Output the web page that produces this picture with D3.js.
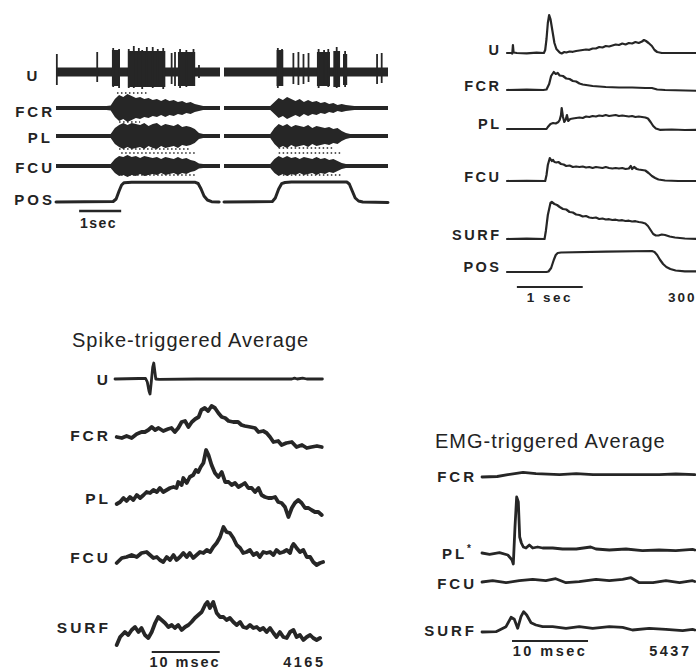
<!DOCTYPE html>
<html>
<head>
<meta charset="utf-8">
<script src="https://cdn.jsdelivr.net/npm/d3@7"></script>
<style>
  body { margin: 0; background: #fff; }
  svg text { font-family: "Liberation Sans", Arial, sans-serif; fill: #232323; }
</style>
</head>
<body>
<svg id="fig" width="696" height="669"></svg>
<script>
// ---------- panel A: raw records, two sweeps, envelope sampled every 0.1 s ----------
var dtA = 0.1;
var fcrA1 = [2,2,2,2,2,2,2,2,2,2,2,2,2,2.5, 9,13,11,14,12,10,11,9,10,8,9,7,9,7,8,6,7,5,6,4, 3, 2,2,2,2,2];
var fcrA2 = [2,2,2,2,2,2,2,2,2,2,2,2, 6,10,8,11,9,7,9,6,8,6,7,5,6,4,5,3,4,3, 2.5, 2,2,2,2,2,2,2,2,2];
var plA1  = [2,2,2,2,2,2,2,2,2,2,2,2,2,2, 8,11,13,11,13,12,11,13,10,12,13,10,12,11,10,12,9,10,9,7, 3, 2,2,2,2,2];
var plA2  = [2,2,2,2,2,2,2,2,2,2,2,2, 8,12,10,12,9,11,10,9,11,8,10,9,8,9,7,8,5,3, 2,2,2,2,2,2,2,2,2,2];
var fcuA1 = [2,2,2,2,2,2,2,2,2,2,2,2,2,2, 7,10,9,11,9,10,8,10,9,8,9,7,9,8,7,9,7,8,6,5, 2.5, 2,2,2,2,2];
var fcuA2 = [2,2,2,2,2,2,2,2,2,2,2,2, 7,10,8,10,8,9,7,9,8,7,9,7,8,6,7,5,3,2, 2,2,2,2,2,2,2,2,2,2];
// speckled artefact rows: [trace, sweep, t0, t1, offset]
var emgDots = [
  ["FCR", 0, 1.45, 2.2, 15], ["FCR", 0, 1.5, 2.0, -14],
  ["PL", 0, 1.5, 3.2, -13], ["PL", 1, 1.3, 2.6, -12],
  ["FCU", 0, 1.55, 3.3, 13], ["FCU", 0, 1.55, 3.3, -9],
  ["FCU", 1, 1.3, 2.8, 13], ["FCU", 1, 1.4, 2.8, -9]
];
// unit record: rest noise, dense bursts [t0, t1, top, bottom], single spikes [t, top, bottom]
var uRest = [4.5, 4.5];
var uBursts1 = [[1.33, 1.52, 22, -14], [1.71, 2.6, 21, -15], [2.9, 3.31, 20, -14]];
var uBursts2 = [[1.25, 1.41, 22, -14], [2.21, 2.52, 20, -14], [2.6, 2.76, 21, -15], [2.83, 2.93, 18, -13]];
var uSpikes1 = [[0.02, 18, -13], [0.98, 20, -10], [1.36, 24, -15], [1.5, 23, -16], [1.73, 23, -16], [1.85, 26, -16], [1.97, 24, -13], [2.05, 22, -17], [2.16, 25, -14],
                [2.3, 25, -16], [2.42, 23, -13], [2.55, 24, -17], [2.75, 19, -12], [2.83, 20, -14], [2.95, 23, -16], [3.1, 22, -15], [3.27, 23, -14], [3.4, 7, -6]];
var uSpikes2 = [[1.28, 24, -16], [1.38, 23, -14], [1.65, 19, -12], [1.77, 20, -13], [1.89, 18, -12], [2.01, 19, -10], [2.25, 23, -16], [2.38, 22, -13],
                [2.48, 23, -15], [2.68, 25, -16], [2.88, 21, -15], [3.64, 18, -12], [3.75, 19, -11]];
var posA1 = [[0,0],[1.36,0.5],[1.43,3],[1.5,11],[1.56,17],[1.62,19.3],[1.8,19.8],[3.3,19.8],[3.38,18.5],[3.45,13],[3.52,6],[3.6,2],[3.7,0.3],[3.88,0]];
var posA2 = [[0,0],[1.15,0.5],[1.22,4],[1.3,13],[1.37,18.3],[1.45,19.5],[1.6,20],[2.92,20],[2.98,18],[3.05,11],[3.12,4],[3.2,1],[3.3,0],[3.9,-0.5]];
var barA = [0.55, 1.55];

// ---------- panel B: averaged records (s, units above rest) ----------
var uB = [[0,0],[0.07,0],[0.08,-0.5],[0.09,8],[0.1,0.5],[0.15,0],[0.3,-0.3],[0.45,0.3],[0.56,0],[0.58,3],[0.6,14],[0.62,30],[0.64,38],[0.66,34],[0.69,22],[0.72,10],[0.75,4],[0.8,0.5],[0.83,-0.5],[0.87,1],[0.9,0.5],[0.95,1.5],[1.0,1.2],[1.05,2],[1.1,2.5],[1.15,3],[1.2,3.5],[1.25,3.2],[1.3,4.5],[1.35,4.5],[1.4,6],[1.45,5.5],[1.5,7],[1.55,6.5],[1.6,7.5],[1.65,8.5],[1.7,8],[1.75,9.5],[1.8,8.5],[1.85,10],[1.9,9.5],[1.95,11],[2.0,10],[2.05,11.5],[2.08,13],[2.11,12],[2.15,10],[2.2,7],[2.24,3],[2.28,1],[2.35,0],[2.6,0],[2.9,0]];
var fcrB = [[0,0],[0.3,0.3],[0.55,0],[0.6,0.5],[0.64,6],[0.67,14],[0.71,18],[0.74,16],[0.77,17],[0.8,14.5],[0.85,14],[0.9,11.5],[0.95,11],[1.0,9],[1.05,8.5],[1.1,6.5],[1.15,5.5],[1.2,5],[1.3,4],[1.4,3.5],[1.5,3],[1.7,2.5],[1.9,2.5],[2.1,2],[2.2,2],[2.28,0.5],[2.4,0],[2.9,-0.8]];
var plB = [[0,0],[0.3,0],[0.6,0],[0.62,2],[0.66,5],[0.7,6],[0.74,5.5],[0.78,7],[0.8,9],[0.82,14],[0.83,21],[0.85,12],[0.87,7],[0.89,9],[0.91,14],[0.93,8],[0.96,10],[1.0,10.5],[1.05,11],[1.1,11.5],[1.15,11],[1.2,12.5],[1.25,12],[1.3,13],[1.35,12.5],[1.4,13.5],[1.45,13],[1.5,14],[1.55,13],[1.6,13.5],[1.65,14],[1.7,13],[1.75,13.5],[1.8,13],[1.85,12.5],[1.9,13],[1.95,12],[2.0,12.5],[2.05,12],[2.1,11.5],[2.14,10.5],[2.18,7],[2.22,3],[2.26,0.5],[2.32,-0.8],[2.5,-0.5],[2.7,-1],[2.9,-0.8]];
var fcuB = [[0,0],[0.3,0.2],[0.58,0],[0.6,6],[0.62,16],[0.65,23],[0.68,20],[0.7,21],[0.72,19],[0.75,18.5],[0.78,19],[0.82,17],[0.86,16.5],[0.9,15],[0.95,15.5],[1.0,14],[1.05,14.5],[1.1,14],[1.15,14.5],[1.2,13.5],[1.25,14],[1.3,13],[1.35,14],[1.4,13.5],[1.45,13],[1.5,14],[1.55,13],[1.6,12.5],[1.65,13],[1.7,12.5],[1.75,13],[1.8,12],[1.85,12.5],[1.88,15],[1.9,12],[1.93,14],[1.97,12],[2.0,11.5],[2.05,11],[2.1,10.5],[2.15,8],[2.2,5],[2.25,3],[2.3,1.5],[2.4,0.5],[2.6,0],[2.9,0]];
var surfB = [[0,0],[0.3,0.3],[0.57,0],[0.59,8],[0.62,24],[0.66,36],[0.68,37],[0.72,35],[0.76,34],[0.8,32],[0.85,30],[0.9,29.5],[0.95,27],[1.0,26.5],[1.05,24.5],[1.1,24],[1.15,22.5],[1.2,23],[1.25,21.5],[1.3,21],[1.35,21.5],[1.4,20],[1.45,20.5],[1.5,19.5],[1.55,19.8],[1.6,19],[1.65,19.3],[1.7,18.5],[1.75,18.8],[1.8,18],[1.85,18.3],[1.9,17.5],[1.95,17.8],[2.0,17],[2.05,16.5],[2.1,15.5],[2.14,13],[2.18,9],[2.22,5],[2.26,3.5],[2.3,3.5],[2.35,4.5],[2.4,4],[2.47,2.5],[2.55,1.5],[2.7,0.5],[2.9,0]];
var posB = [[0,0],[0.6,0],[0.63,0.5],[0.67,4],[0.71,12],[0.74,17],[0.77,19],[0.82,19.5],[1.5,20.3],[2.2,21],[2.24,20],[2.28,17],[2.32,12.5],[2.37,8],[2.42,5],[2.48,3],[2.56,1.5],[2.7,0.7],[2.9,0.5]];
var barB = [0.15, 1.15];

// ---------- panel C: spike-triggered average (ms) ----------
var uC = [[0,0],[3.5,0.5],[4.5,0.5],[4.75,-3],[5.0,-12],[5.15,-15],[5.35,-2],[5.55,12],[5.7,16],[5.85,8],[6.0,0],[6.5,-0.3],[12,0],[20,0],[26,0],[26.4,0.8],[26.8,0],[27.6,0.8],[28.2,0],[30.5,0]];
var fcrC = [[0.25,0],[1,-1],[1.7,1],[2.45,-1],[3.2,3],[3.9,5],[4.4,5],[4.9,7],[5.4,10],[5.9,7],[6.4,9],[7.1,6],[7.8,8],[8.3,9],[8.8,5],[9.3,9],[9.8,15],[10.3,16],[10.8,10],[11.3,15],[11.8,18],[12.3,20],[12.7,27],[13.2,29],[13.7,26],[14.2,31],[14.7,29],[15.2,24],[15.7,20],[16.2,19],[16.7,16],[17.4,15],[18.1,15],[18.6,12],[19.1,11],[19.9,10],[20.6,9],[21.1,5],[21.8,6],[22.3,4],[22.8,0],[23.3,-5],[24.0,-4],[24.5,-8],[25.2,-6],[26.0,-5],[26.7,-10],[27.5,-8],[28.2,-11],[28.9,-10],[29.7,-9],[30.4,-10]];
var plC = [[0.25,0],[0.75,2],[1.25,6],[1.7,3],[2.2,7],[2.7,4],[3.2,9],[3.7,6],[4.2,9],[4.65,12],[5.15,11],[5.65,14],[6.15,12],[6.6,16],[7.1,12],[7.6,14],[8.1,16],[8.6,17],[9.05,16],[9.3,22],[9.8,19],[10.05,26],[10.55,21],[11.0,27],[11.5,29],[11.9,34],[12.25,32],[12.6,37],[13.0,41],[13.4,54],[13.75,49],[14.2,39],[14.7,31],[15.2,27],[15.7,32],[16.2,22],[16.7,22],[17.15,19],[17.65,21],[18.15,17],[18.65,19],[19.1,21],[19.6,16],[20.1,16],[20.6,12],[21.1,16],[21.55,9],[22.05,7],[22.55,6],[23.05,6],[23.55,7],[24.0,2],[24.5,1],[25.0,-3],[25.5,-13],[26.0,-4],[26.45,1],[26.95,4],[27.45,1],[27.95,-4],[28.45,-4],[28.9,-6],[29.4,-8],[29.9,-8],[30.4,-11]];
var fcuC = [[0.25,0],[1.0,5],[1.7,6],[2.45,8],[3.2,6],[3.9,10],[4.65,11],[5.15,8],[5.65,5],[6.15,6],[6.6,3],[7.1,1],[7.6,6],[8.1,3],[8.6,8],[9.05,3],[9.55,6],[10.05,10],[10.55,6],[11.0,10],[11.5,5],[12.0,8],[12.5,11],[13.0,10],[13.5,13],[14.0,11],[14.45,16],[14.95,20],[15.45,26],[15.95,36],[16.4,31],[16.9,30],[17.4,25],[17.9,18],[18.4,15],[18.85,10],[19.35,11],[19.85,13],[20.35,8],[20.85,10],[21.3,6],[21.8,11],[22.3,10],[22.8,11],[23.3,8],[23.75,13],[24.25,10],[24.75,11],[25.25,13],[25.75,10],[26.0,16],[26.25,19],[26.5,17],[26.7,15],[27.2,11],[27.7,13],[28.2,6],[28.7,6],[29.15,1],[29.65,-2],[30.15,0],[30.6,1]];
var surfC = [[0.25,0],[0.75,8],[1.45,13],[1.95,10],[2.45,15],[2.95,18],[3.45,13],[3.9,17],[4.4,10],[4.9,7],[5.4,13],[5.9,22],[6.35,28],[6.85,25],[7.35,22],[7.85,18],[8.35,20],[8.8,17],[9.3,20],[9.8,15],[10.3,18],[10.8,20],[11.25,23],[11.75,27],[12.25,30],[12.75,33],[13.25,40],[13.6,43],[13.95,37],[14.45,43],[14.95,32],[15.45,28],[15.95,28],[16.4,25],[16.9,27],[17.4,23],[17.9,20],[18.4,23],[18.85,18],[19.35,17],[19.85,20],[20.35,17],[20.85,18],[21.3,15],[21.8,17],[22.3,13],[22.8,17],[23.3,12],[23.75,8],[24.25,13],[24.75,8],[25.25,7],[25.75,13],[26.25,15],[26.7,8],[27.2,10],[27.7,5],[28.2,8],[28.7,10],[29.15,7],[29.65,5],[30.15,7]];
var barC = [5.4, 15.4];

// ---------- panel D: EMG-triggered average (ms) ----------
var fcrD = [[0,0],[2.0,0.5],[3.4,2.3],[5.4,4.7],[7.1,3.3],[10.2,2.3],[12.4,3.3],[14.6,2.3],[17.6,2.3],[21.1,2.3],[23.3,2.3],[25.5,3],[28,2.3]];
var plD = [[0,0],[1.0,-1.3],[2.3,0.3],[3.4,-2],[3.95,-7],[4.12,-11],[4.34,26],[4.56,56],[4.78,51],[4.96,16],[5.18,10],[5.44,6],[5.79,5],[6.23,8],[6.67,5],[7.32,6],[7.98,5],[9.3,5],[10.6,4],[12.4,4],[14.3,6],[15.0,4],[16.75,3],[18.95,4],[21.1,2.3],[23.3,3],[25.5,2.3],[27.7,3.7],[28,3]];
var fcuD = [[0,0],[1.4,1.3],[3.16,-0.7],[4.9,1.3],[6.67,2.7],[8.4,1.3],[9.7,3.3],[11.05,-0.7],[12.8,0.3],[15.0,2.7],[16.75,1.3],[18.5,2.7],[19.6,4.3],[20.7,-0.7],[22.5,-0.7],[24.2,1.3],[26.0,-0.7],[27.7,1.3],[28,0.5]];
var surfD = [[0,0],[1.84,0.3],[3.16,5.3],[3.82,14.7],[4.25,12.7],[4.69,3.7],[5.13,15.3],[5.48,20.3],[5.88,17],[6.45,9.3],[7.1,7],[7.98,5.3],[9.3,5.3],[11.05,3.7],[12.8,5.3],[14.56,3.7],[16.75,5.3],[18.5,4.7],[19.8,2],[22.0,3.7],[24.2,2.7],[26.4,1.3],[27.7,2.7],[28,2]];
var barD = [3.95, 13.95];

// ---------- drawing ----------
var ink = "#262626";
var svg = d3.select("#fig");
svg.append("rect").attr("width", 696).attr("height", 669).attr("fill", "#fff");

function unitScale(base) {
  // 1 unit of record = 1 px above the trace's rest level
  return d3.scaleLinear().domain([0, 50]).range([base, base - 50]);
}

function trace(g, x, y, data, w) {
  var line = d3.line().x(function(d) { return x(d[0]); }).y(function(d) { return y(d[1]); });
  g.append("path").datum(data)
    .attr("d", line)
    .attr("fill", "none")
    .attr("stroke", ink)
    .attr("stroke-width", w)
    .attr("stroke-linejoin", "round")
    .attr("stroke-linecap", "round");
}

function label(g, txt, x, y, size, ls, anchor) {
  var t = g.append("text")
    .attr("x", x).attr("y", y)
    .attr("dominant-baseline", "central")
    .attr("text-anchor", anchor || "end")
    .attr("font-size", size)
    .attr("font-weight", "bold")
    .attr("letter-spacing", ls)
    .text(txt);
  if ((anchor || "end") == "end") t.attr("dx", ls);
  return t;
}

function scaleBar(g, x, range, y, w) {
  g.append("line")
    .attr("x1", x(range[0])).attr("x2", x(range[1]))
    .attr("y1", y).attr("y2", y)
    .attr("stroke", ink).attr("stroke-width", w);
}

// ===== Panel A =====
var gA = svg.append("g");
var xA = [
  d3.scaleLinear().domain([0, 3.9]).range([56, 220]),
  d3.scaleLinear().domain([0, 3.9]).range([224, 388])
];
var emgA = [
  { name: "FCR", base: 108, amp: [fcrA1, fcrA2] },
  { name: "PL",  base: 136, amp: [plA1, plA2] },
  { name: "FCU", base: 166, amp: [fcuA1, fcuA2] }
];
emgA.forEach(function(tr) {
  var y = unitScale(tr.base);
  tr.amp.forEach(function(arr, s) {
    var area = d3.area()
      .x(function(d, i) { return xA[s](i * dtA); })
      .y0(function(d) { return y(-d); })
      .y1(function(d) { return y(d); });
    gA.append("path").datum(arr).attr("d", area).attr("fill", ink);
  });
  emgDots.filter(function(d) { return d[0] == tr.name; }).forEach(function(d) {
    gA.append("line")
      .attr("x1", xA[d[1]](d[2])).attr("x2", xA[d[1]](d[3]))
      .attr("y1", y(d[4])).attr("y2", y(d[4]))
      .attr("stroke", ink).attr("stroke-width", 1.6)
      .attr("stroke-dasharray", "1.5,2.5");
  });
});

// unit record
var yU = unitScale(72);
[[uBursts1, uSpikes1], [uBursts2, uSpikes2]].forEach(function(pair, s) {
  var x = xA[s];
  gA.append("rect")
    .attr("x", x(0)).attr("width", x(3.9) - x(0))
    .attr("y", yU(uRest[s])).attr("height", yU(-uRest[s]) - yU(uRest[s]))
    .attr("fill", ink);
  gA.selectAll(null).data(pair[0]).enter().append("rect")
    .attr("x", function(d) { return x(d[0]); })
    .attr("width", function(d) { return x(d[1]) - x(d[0]); })
    .attr("y", function(d) { return yU(d[2]); })
    .attr("height", function(d) { return yU(d[3]) - yU(d[2]); })
    .attr("fill", ink);
  gA.selectAll(null).data(pair[1]).enter().append("line")
    .attr("x1", function(d) { return x(d[0]); })
    .attr("x2", function(d) { return x(d[0]); })
    .attr("y1", function(d) { return yU(d[1]); })
    .attr("y2", function(d) { return yU(d[2]); })
    .attr("stroke", ink).attr("stroke-width", 1.8);
});

var yPosA = unitScale(202);
trace(gA, xA[0], yPosA, posA1, 3);
trace(gA, xA[1], yPosA, posA2, 3);
scaleBar(gA, xA[0], barA, 211, 2.5);
label(gA, "1sec", 80, 223, 14, 1.5, "start");

label(gA, "U", 32, 75, 15, 0, "middle");
label(gA, "FCR", 52, 111, 15, 3);
label(gA, "PL", 50, 137, 15, 3);
label(gA, "FCU", 52, 167, 15, 3);
label(gA, "POS", 52, 199, 15, 3);

// ===== Panel B =====
var gB = svg.append("g");
var xB = d3.scaleLinear().domain([0, 2.9]).range([507, 698]);
var tracesB = [
  { name: "U", base: 53, data: uB, ly: 50 },
  { name: "FCR", base: 90, data: fcrB, ly: 86 },
  { name: "PL", base: 129, data: plB, ly: 124 },
  { name: "FCU", base: 181, data: fcuB, ly: 177 },
  { name: "SURF", base: 239, data: surfB, ly: 235 },
  { name: "POS", base: 272, data: posB, ly: 267 }
];
tracesB.forEach(function(tr) {
  trace(gB, xB, unitScale(tr.base), tr.data, 2.2);
  label(gB, tr.name, 499, tr.ly, 14.5, 2.5);
});
scaleBar(gB, xB, barB, 287, 2.2);
label(gB, "1 sec", 550, 297, 13.5, 2.5, "middle");
label(gB, "300", 668, 297, 13.5, 2, "start");

// ===== Panel C =====
var gC = svg.append("g");
var xC = d3.scaleLinear().domain([0, 30.5]).range([115, 322.4]);
gC.append("text")
  .attr("x", 72).attr("y", 340)
  .attr("dominant-baseline", "central")
  .attr("font-size", 20).attr("letter-spacing", 1)
  .text("Spike-triggered Average");
var tracesC = [
  { name: "U", base: 379, data: uC, ly: 379, w: 2.8 },
  { name: "FCR", base: 437, data: fcrC, ly: 435, w: 3.8 },
  { name: "PL", base: 504, data: plC, ly: 498, w: 3.8 },
  { name: "FCU", base: 563, data: fcuC, ly: 557, w: 3.8 },
  { name: "SURF", base: 645, data: surfC, ly: 627, w: 3.8 }
];
tracesC.forEach(function(tr) {
  trace(gC, xC, unitScale(tr.base), tr.data, tr.w);
  label(gC, tr.name, 108, tr.ly, 15.5, 3);
});
scaleBar(gC, xC, barC, 652, 2.2);
label(gC, "10 msec", 185, 662, 14.5, 2, "middle");
label(gC, "4165", 323, 662, 14.5, 2.5);

// ===== Panel D =====
var gD = svg.append("g");
var xD = d3.scaleLinear().domain([0, 28]).range([482, 694.8]);
gD.append("text")
  .attr("x", 435).attr("y", 441)
  .attr("dominant-baseline", "central")
  .attr("font-size", 20).attr("letter-spacing", 1)
  .text("EMG-triggered Average");
var tracesD = [
  { name: "FCR", base: 477, data: fcrD, ly: 476 },
  { name: "PL", base: 553, data: plD, ly: 553 },
  { name: "FCU", base: 582, data: fcuD, ly: 583 },
  { name: "SURF", base: 632, data: surfD, ly: 630 }
];
tracesD.forEach(function(tr) {
  trace(gD, xD, unitScale(tr.base), tr.data, 2.8);
  var t = label(gD, tr.name, 474, tr.ly, 15, 3);
  if (tr.name == "PL") {
    t.attr("dx", 0);
    t.append("tspan").attr("font-size", 10).attr("dy", -5).text("*");
  }
});
scaleBar(gD, xD, barD, 641, 2.2);
label(gD, "10 msec", 550, 651, 14.5, 2.5, "middle");
label(gD, "5437", 689, 651, 14.5, 2.5);
</script>
</body>
</html>
